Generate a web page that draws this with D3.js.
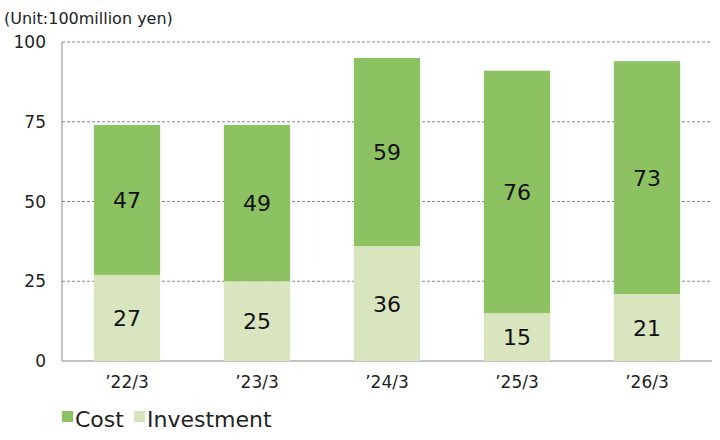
<!DOCTYPE html>
<html><head><meta charset="utf-8">
<script src="https://cdn.jsdelivr.net/npm/d3@7"></script>
<style>body{margin:0;background:#fff}svg{font-family:"DejaVu Sans",sans-serif}</style>
</head><body><svg id="c" width="720" height="440"></svg>
<script>
const categories = ["’22/3","’23/3","’24/3","’25/3","’26/3"];
const investment = [27,25,36,15,21];
const cost = [47,49,59,76,73];
const yTicks = [0,25,50,75,100];
const colors = {cost:"#8dc263", inv:"#d9e5bf"};

const svg = d3.select("#c");
const x = d3.scaleBand().domain(categories).range([62,712]).paddingInner(0.49).paddingOuter(0.245);
const y = d3.scaleLinear().domain([0,100]).range([361,42]);

svg.append("g").selectAll("line").data(yTicks.filter(d=>d>0)).join("line")
  .attr("x1",62).attr("x2",712).attr("y1",d=>y(d)).attr("y2",d=>y(d))
  .attr("stroke","#888").attr("stroke-dasharray","3,2").attr("stroke-width",1);
svg.append("line").attr("x1",62).attr("x2",712).attr("y1",y(0)).attr("y2",y(0)).attr("stroke","#888");
svg.append("line").attr("x1",62).attr("x2",62).attr("y1",y(0)).attr("y2",y(100)).attr("stroke","#888");
svg.append("g").selectAll("text").data(yTicks).join("text")
  .attr("x",46).attr("y",d=>y(d)+6).attr("text-anchor","end").attr("font-size",17).attr("fill","#222").text(d=>d);

const g = svg.append("g");
categories.forEach((c,i)=>{
  g.append("rect").attr("x",x(c)).attr("width",x.bandwidth()).attr("y",y(investment[i])).attr("height",y(0)-y(investment[i])).attr("fill",colors.inv);
  g.append("rect").attr("x",x(c)).attr("width",x.bandwidth()).attr("y",y(investment[i]+cost[i])).attr("height",y(investment[i])-y(investment[i]+cost[i])).attr("fill",colors.cost);
  g.append("text").attr("x",x(c)+x.bandwidth()/2).attr("y",(y(0)+y(investment[i]))/2+8).attr("text-anchor","middle").attr("font-size",22).attr("fill","#111").text(investment[i]);
  g.append("text").attr("x",x(c)+x.bandwidth()/2).attr("y",(y(investment[i])+y(investment[i]+cost[i]))/2+8).attr("text-anchor","middle").attr("font-size",22).attr("fill","#111").text(cost[i]);
  g.append("text").attr("x",x(c)+x.bandwidth()/2).attr("y",388).attr("text-anchor","middle").attr("font-size",17).attr("fill","#222").text(c);
});

svg.append("text").attr("x",4).attr("y",24).attr("font-size",16).attr("fill","#222").text("(Unit:100million yen)");

const leg = [["Cost",colors.cost,62],["Investment",colors.inv,134]];
leg.forEach(([t,col,lx])=>{
  svg.append("rect").attr("x",lx).attr("y",411).attr("width",11).attr("height",11).attr("fill",col);
  svg.append("text").attr("x",lx+13).attr("y",427).attr("font-size",22).attr("fill","#222").text(t);
});
</script></body></html>
